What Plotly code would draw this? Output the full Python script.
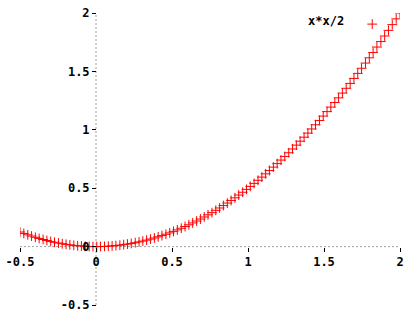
import plotly.graph_objects as go

x_vals = [-0.500, -0.475, -0.449, -0.424, -0.399, -0.374, -0.348, -0.323, -0.298, -0.273,
          -0.247, -0.222, -0.197, -0.172, -0.146, -0.121, -0.096, -0.071, -0.045, -0.020,
          0.005, 0.030, 0.056, 0.081, 0.106, 0.131, 0.157, 0.182, 0.207, 0.232,
          0.258, 0.283, 0.308, 0.333, 0.359, 0.384, 0.409, 0.434, 0.460, 0.485,
          0.510, 0.535, 0.561, 0.586, 0.611, 0.636, 0.662, 0.687, 0.712, 0.737,
          0.763, 0.788, 0.813, 0.838, 0.864, 0.889, 0.914, 0.939, 0.965, 0.990,
          1.015, 1.040, 1.066, 1.091, 1.116, 1.141, 1.167, 1.192, 1.217, 1.242,
          1.268, 1.293, 1.318, 1.343, 1.369, 1.394, 1.419, 1.444, 1.470, 1.495,
          1.520, 1.545, 1.571, 1.596, 1.621, 1.646, 1.672, 1.697, 1.722, 1.747,
          1.773, 1.798, 1.823, 1.848, 1.874, 1.899, 1.924, 1.949, 1.975, 2.000]
y_vals = [0.1250, 0.1127, 0.1010, 0.0900, 0.0796, 0.0698, 0.0607, 0.0522, 0.0444, 0.0372,
          0.0306, 0.0247, 0.0194, 0.0147, 0.0107, 0.0073, 0.0046, 0.0025, 0.0010, 0.0002,
          0.0000, 0.0005, 0.0015, 0.0033, 0.0056, 0.0086, 0.0123, 0.0165, 0.0214, 0.0270,
          0.0332, 0.0400, 0.0475, 0.0556, 0.0643, 0.0737, 0.0837, 0.0943, 0.1056, 0.1175,
          0.1301, 0.1433, 0.1571, 0.1716, 0.1867, 0.2025, 0.2189, 0.2359, 0.2536, 0.2719,
          0.2908, 0.3104, 0.3306, 0.3514, 0.3729, 0.3951, 0.4178, 0.4412, 0.4653, 0.4900,
          0.5153, 0.5412, 0.5678, 0.5950, 0.6229, 0.6514, 0.6806, 0.7103, 0.7408, 0.7718,
          0.8035, 0.8358, 0.8688, 0.9024, 0.9367, 0.9715, 1.0071, 1.0432, 1.0800, 1.1174,
          1.1555, 1.1942, 1.2336, 1.2735, 1.3142, 1.3554, 1.3973, 1.4399, 1.4830, 1.5268,
          1.5713, 1.6164, 1.6621, 1.7085, 1.7554, 1.8031, 1.8514, 1.9003, 1.9498, 2.0000]
series_name = "x*x/2"
tick_vals = [-0.5, 0, 0.5, 1, 1.5, 2]
tick_text = ["-0.5", "0", "0.5", "1", "1.5", "2"]

FONT = dict(family="DejaVu Sans Mono", size=12, color="black", weight="bold")

fig = go.Figure()
fig.add_trace(go.Scatter(
    x=x_vals, y=y_vals, mode="markers", name="",
    marker=dict(symbol="cross-thin", size=7, color="red",
                line=dict(color="red", width=1)),
    showlegend=True,
))

axis_common = dict(
    range=[-0.5, 2], showgrid=False, zeroline=False, showline=False,
    ticks="outside", ticklen=4, tickwidth=1, tickcolor="black",
    tickmode="array", tickvals=tick_vals, ticktext=tick_text,
    tickfont=FONT, anchor="free", position=0.2, fixedrange=True,
    automargin=False,
)
fig.update_layout(
    width=420, height=320,
    margin=dict(l=20, r=20, t=13, b=15, autoexpand=False),
    paper_bgcolor="white", plot_bgcolor="white",
    xaxis=dict(**axis_common),
    yaxis=dict(**axis_common),
    legend=dict(
        title=dict(text=series_name, side="left", font=FONT),
        x=0.995, xanchor="right", y=0.962, yanchor="middle",
        bgcolor="rgba(0,0,0,0)", font=FONT, itemwidth=30,
    ),
    shapes=[
        dict(type="line", xref="x", yref="y", x0=-0.5, x1=2, y0=0, y1=0,
             line=dict(color="#a0a0a0", width=1, dash="2px,2px"), layer="below"),
        dict(type="line", xref="x", yref="y", x0=0, x1=0, y0=-0.5, y1=2,
             line=dict(color="#a0a0a0", width=1, dash="2px,2px"), layer="below"),
    ],
)

fig.write_html("out.html")
